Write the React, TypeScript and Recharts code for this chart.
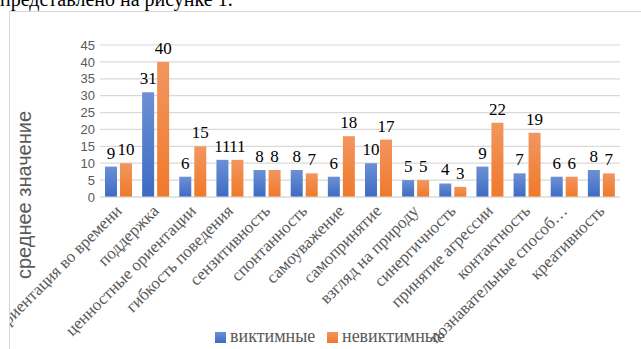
import React from 'react';
import { BarChart, Bar, XAxis, YAxis, CartesianGrid, LabelList } from 'recharts';

const categories = [
    'ориентация во времени',
    'поддержка',
    'ценностные ориентации',
    'гибкость поведения',
    'сензитивность',
    'спонтанность',
    'самоуважение',
    'самопринятие',
    'взгляд на природу',
    'синергичность',
    'принятие агрессии',
    'контактность',
    'познавательные способ…',
    'креативность',
];

const victimValues = [9, 31, 6, 11, 8, 8, 6, 10, 5, 4, 9, 7, 6, 8];
const nonVictimValues = [10, 40, 15, 11, 8, 7, 18, 17, 5, 3, 22, 19, 6, 7];

const yTicks = [0, 5, 10, 15, 20, 25, 30, 35, 40, 45];

const series = [
    { key: 'victim', name: 'виктимные', top: '#6c90d5', bottom: '#3d6bc3' },
    { key: 'nonVictim', name: 'невиктимные', top: '#f2965f', bottom: '#f0792a' },
];

const data = categories.map((name, i) => ({
    name,
    victim: victimValues[i],
    nonVictim: nonVictimValues[i],
}));

const SERIF = "Liberation Serif";
const SANS = "Liberation Sans";
const GREY = '#595959';

// slanted category names, anchored at their end just under the axis
const CategoryTick = ({ x, y, payload }: any) => (
    <g transform={`translate(${x + 4},${y + 15})`}>
        <text textAnchor="end" transform="rotate(-45)" fill={GREY} style={{ fontFamily: SERIF, fontSize: 17 }}>
            {payload.value}
        </text>
    </g>
);

// value above each bar
const ValueLabel = ({ x, y, width, value }: any) => (
    <text x={x + width / 2} y={y - 8} textAnchor="middle" fill="#000" style={{ fontFamily: SERIF, fontSize: 17 }}>
        {value}
    </text>
);

export default function App() {
    return (
        <div style={{ position: 'absolute', left: 0, top: 0, width: 641, height: 349, overflow: 'hidden', background: '#fff' }}>
            <svg width={641} height={12} style={{ position: 'absolute', left: 0, top: 0 }}>
                <text x={0} y={6} style={{ fontFamily: SERIF, fontSize: 20 }} fill="#000">представлено на рисунке 1.</text>
            </svg>
            <div
                style={{
                    position: 'absolute',
                    left: 9,
                    top: 11,
                    width: 640,
                    height: 345,
                    borderLeft: '1px solid #d9d9d9',
                    borderTop: '1px solid #d9d9d9',
                    boxSizing: 'border-box',
                }}
            />
            <div style={{ position: 'absolute', left: 10, top: 12, width: 631, height: 337, overflow: 'hidden' }}>
                <BarChart
                    width={631}
                    height={337}
                    data={data}
                    barSize={12}
                    barGap={3}
                    margin={{ top: 33, right: 21, bottom: 32, left: 50 }}
                >
                    <defs>
                        {series.map((s) => (
                            <linearGradient key={s.key} id={`grad-${s.key}`} x1="0" y1="0" x2="0" y2="1">
                                <stop offset="0%" stopColor={s.top} />
                                <stop offset="100%" stopColor={s.bottom} />
                            </linearGradient>
                        ))}
                    </defs>
                    <CartesianGrid vertical={false} stroke="#d9d9d9" strokeWidth={1.2} />
                    <XAxis
                        dataKey="name"
                        interval={0}
                        height={120}
                        tickLine={false}
                        tickSize={0}
                        tickMargin={0}
                        axisLine={{ stroke: '#d9d9d9', strokeWidth: 1.2 }}
                        tick={<CategoryTick />}
                    />
                    <YAxis
                        domain={[0, 45]}
                        ticks={yTicks}
                        interval={0}
                        width={40}
                        axisLine={false}
                        tickLine={false}
                        tickSize={0}
                        tickMargin={5}
                        tick={{ fill: GREY, fontFamily: SANS, fontSize: 13 }}
                    />
                    {series.map((s) => (
                        <Bar key={s.key} dataKey={s.key} name={s.name} fill={`url(#grad-${s.key})`} isAnimationActive={false}>
                            <LabelList dataKey={s.key} content={<ValueLabel />} />
                        </Bar>
                    ))}
                </BarChart>
            </div>
            <svg width={641} height={349} style={{ position: 'absolute', left: 0, top: 0, pointerEvents: 'none' }}>
                <text
                    x={31}
                    y={195}
                    transform="rotate(-90, 31, 195)"
                    textAnchor="middle"
                    fill={GREY}
                    style={{ fontFamily: SANS, fontSize: 20 }}
                >
                    среднее значение
                </text>
                <defs>
                    {series.map((s) => (
                        <linearGradient key={s.key} id={`legend-${s.key}`} x1="0" y1="0" x2="0" y2="1">
                            <stop offset="0%" stopColor={s.top} />
                            <stop offset="100%" stopColor={s.bottom} />
                        </linearGradient>
                    ))}
                </defs>
                {series.map((s, i) => {
                    const x = i === 0 ? 215 : 327;
                    return (
                        <g key={s.key}>
                            <rect x={x} y={332} width={11} height={11} fill={`url(#legend-${s.key})`} />
                            <text x={x + 15} y={342} fill={GREY} style={{ fontFamily: SERIF, fontSize: 18 }}>
                                {s.name}
                            </text>
                        </g>
                    );
                })}
            </svg>
        </div>
    );
}
